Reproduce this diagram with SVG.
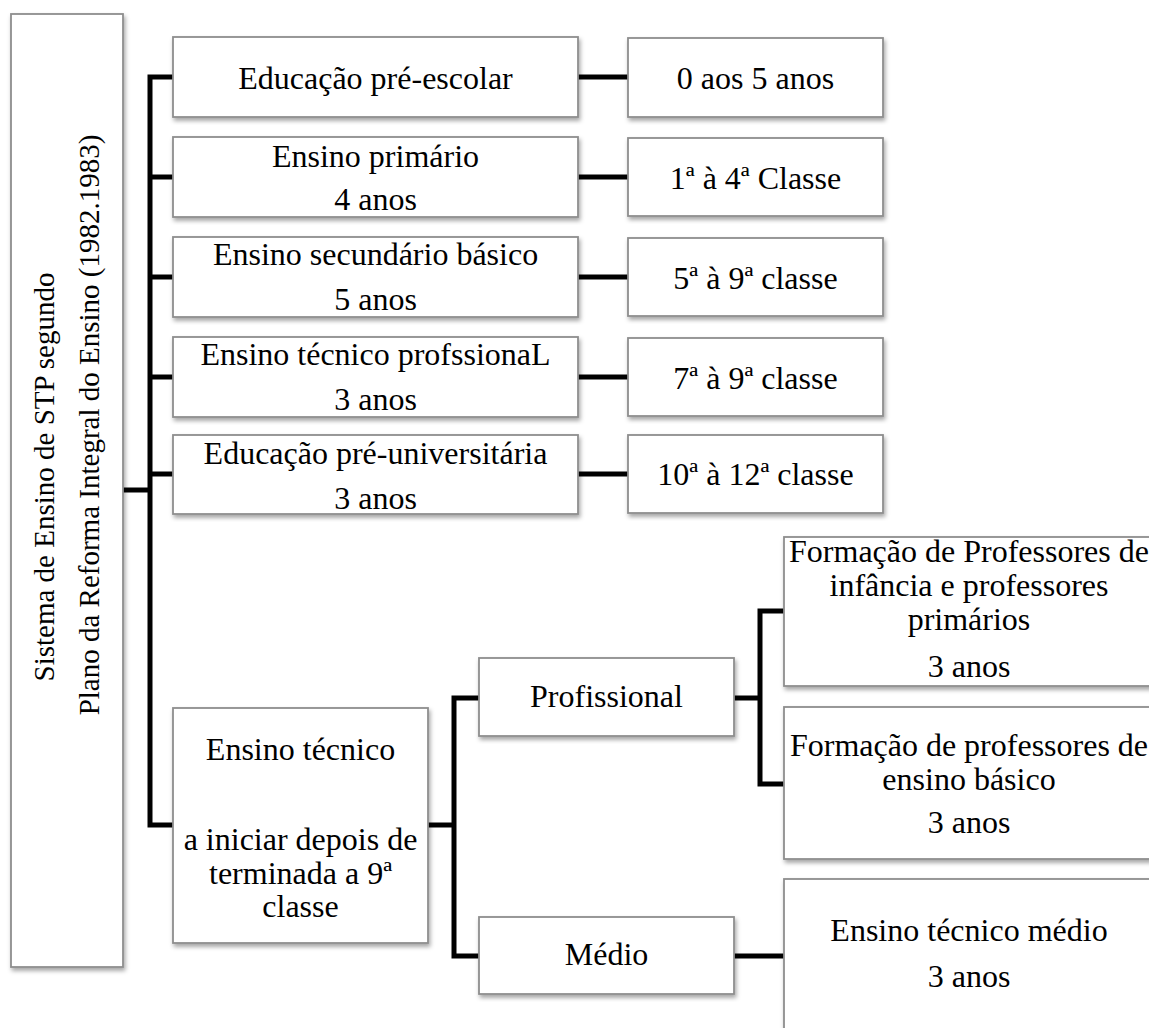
<svg xmlns="http://www.w3.org/2000/svg" width="1149" height="1028" viewBox="0 0 1149 1028">
  <defs>
    <filter id="shadow" x="-5%" y="-5%" width="115%" height="115%">
      <feDropShadow dx="1.5" dy="3" stdDeviation="2" flood-color="#000" flood-opacity="0.35"/>
    </filter>
  </defs>
  <style>
    .box { fill: #ffffff; stroke: #8e8e8e; stroke-width: 1.8; filter: url(#shadow); }
    .lbl { font-family: "Liberation Serif", "Times New Roman", serif; font-size: 32px; fill: #000; text-anchor: middle; }
    .vlbl { font-family: "Liberation Serif", "Times New Roman", serif; font-size: 29px; fill: #000; text-anchor: middle; }
    .wire { fill: none; stroke: #000; stroke-width: 5; stroke-linejoin: miter; stroke-linecap: butt; }
  </style>
  <rect width="1149" height="1028" fill="#ffffff"/>

  <!-- connectors -->
  <g id="connectors">
    <path class="wire" d="M123,490 H150"/>
    <path class="wire" d="M173,77 H150 V825 H173"/>
    <path class="wire" d="M150,177 H173"/>
    <path class="wire" d="M150,277 H173"/>
    <path class="wire" d="M150,377 H173"/>
    <path class="wire" d="M150,474 H173"/>
    <path class="wire" d="M578,77 H628"/>
    <path class="wire" d="M578,177 H628"/>
    <path class="wire" d="M578,277 H628"/>
    <path class="wire" d="M578,377 H628"/>
    <path class="wire" d="M578,474 H628"/>
    <path class="wire" d="M428,825 H454"/>
    <path class="wire" d="M479,698 H454 V956 H479"/>
    <path class="wire" d="M734,698 H760"/>
    <path class="wire" d="M784,611 H760 V784 H784"/>
    <path class="wire" d="M734,956 H784"/>
  </g>

  <!-- root -->
  <g id="root">
    <rect class="box" x="11" y="14" width="112" height="953"/>
    <text class="vlbl" transform="translate(54,477) rotate(-90)">Sistema de Ensino de STP  segundo</text>
    <text class="vlbl" transform="translate(99,425) rotate(-90)">Plano  da Reforma Integral do Ensino (1982.1983)</text>
  </g>

  <!-- levels -->
  <g id="pre-escolar">
    <rect class="box" x="173" y="37" width="405" height="80"/>
    <text class="lbl" x="375.5" y="89">Educação pré-escolar</text>
  </g>
  <g id="pre-escolar-idade">
    <rect class="box" x="628" y="38" width="255" height="79"/>
    <text class="lbl" x="755.5" y="89">0 aos 5 anos</text>
  </g>

  <g id="primario">
    <rect class="box" x="173" y="137" width="405" height="80"/>
    <text class="lbl" x="375.5" y="167">Ensino primário</text>
    <text class="lbl" x="375.5" y="210">4 anos</text>
  </g>
  <g id="primario-classes">
    <rect class="box" x="628" y="138" width="255" height="78"/>
    <text class="lbl" x="755.5" y="189">1ª à 4ª Classe</text>
  </g>

  <g id="secundario">
    <rect class="box" x="173" y="237" width="405" height="80"/>
    <text class="lbl" x="375.5" y="265">Ensino secundário básico</text>
    <text class="lbl" x="375.5" y="310">5 anos</text>
  </g>
  <g id="secundario-classes">
    <rect class="box" x="628" y="238" width="255" height="78"/>
    <text class="lbl" x="755.5" y="289">5ª à 9ª classe</text>
  </g>

  <g id="tecnico-profissional">
    <rect class="box" x="173" y="337" width="405" height="80"/>
    <text class="lbl" x="375.5" y="365">Ensino técnico profssionaL</text>
    <text class="lbl" x="375.5" y="410">3 anos</text>
  </g>
  <g id="tecnico-profissional-classes">
    <rect class="box" x="628" y="338" width="255" height="78"/>
    <text class="lbl" x="755.5" y="389">7ª à 9ª classe</text>
  </g>

  <g id="pre-universitaria">
    <rect class="box" x="173" y="435" width="405" height="79"/>
    <text class="lbl" x="375.5" y="464">Educação pré-universitária</text>
    <text class="lbl" x="375.5" y="509">3 anos</text>
  </g>
  <g id="pre-universitaria-classes">
    <rect class="box" x="628" y="435" width="255" height="78"/>
    <text class="lbl" x="755.5" y="485">10ª à 12ª classe</text>
  </g>

  <!-- technical branch -->
  <g id="ensino-tecnico">
    <rect class="box" x="173" y="708" width="255" height="235"/>
    <text class="lbl" x="300.5" y="760">Ensino técnico</text>
    <text class="lbl" x="300.5" y="850">a iniciar depois de</text>
    <text class="lbl" x="300.5" y="884">terminada a 9ª</text>
    <text class="lbl" x="300.5" y="917">classe</text>
  </g>

  <g id="profissional">
    <rect class="box" x="479" y="658" width="255" height="78"/>
    <text class="lbl" x="606.5" y="707">Profissional</text>
  </g>

  <g id="medio">
    <rect class="box" x="479" y="917" width="255" height="77"/>
    <text class="lbl" x="606.5" y="965">Médio</text>
  </g>

  <g id="formacao-infancia">
    <rect class="box" x="784" y="537" width="380" height="149"/>
    <text class="lbl" x="969" y="562">Formação de Professores de</text>
    <text class="lbl" x="969" y="596">infância e professores</text>
    <text class="lbl" x="969" y="630">primários</text>
    <text class="lbl" x="969" y="677">3 anos</text>
  </g>

  <g id="formacao-basico">
    <rect class="box" x="784" y="707" width="380" height="152"/>
    <text class="lbl" x="969" y="756">Formação de professores de</text>
    <text class="lbl" x="969" y="790">ensino básico</text>
    <text class="lbl" x="969" y="833">3 anos</text>
  </g>

  <g id="tecnico-medio">
    <rect class="box" x="784" y="879" width="380" height="160"/>
    <text class="lbl" x="969" y="941">Ensino técnico médio</text>
    <text class="lbl" x="969" y="987">3 anos</text>
  </g>
</svg>
